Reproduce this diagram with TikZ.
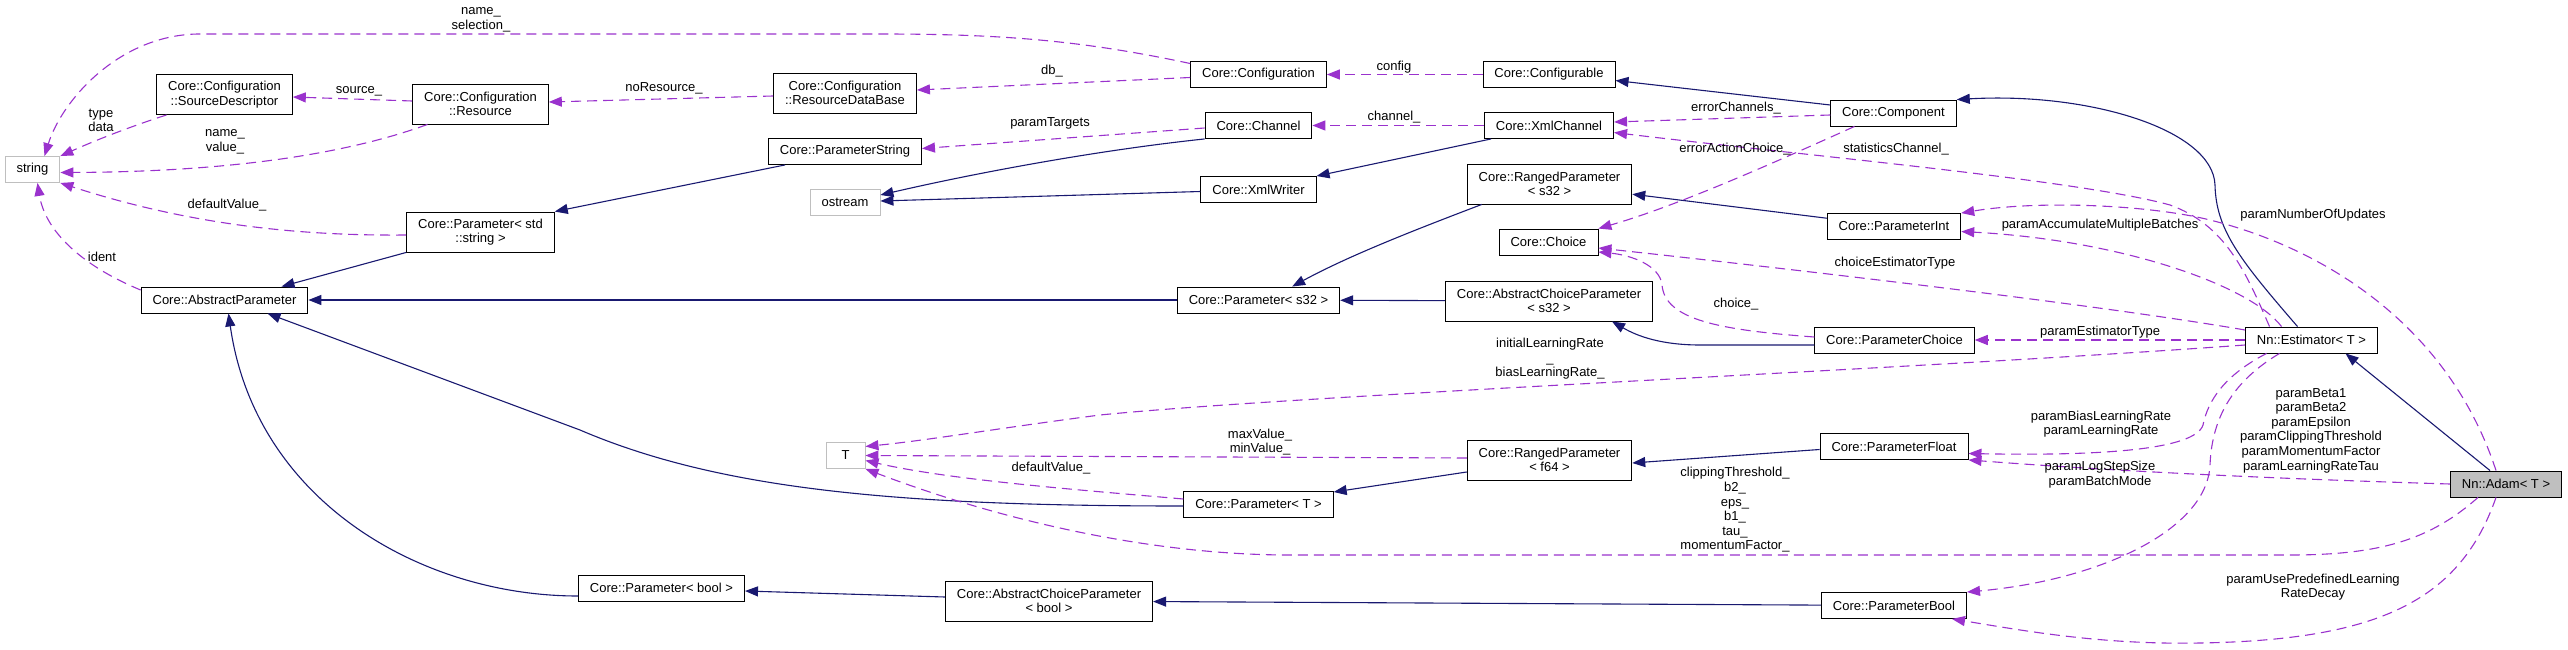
\documentclass[tikz,border=0pt]{standalone}
\usepackage{fontspec}
\setmainfont{Liberation Sans}
\usepackage{xcolor}
\definecolor{inhblue}{RGB}{25,25,112}
\definecolor{usepurple}{RGB}{154,50,205}
\definecolor{extgray}{RGB}{191,191,191}
\usepackage{tikz}
\usetikzlibrary{arrows.meta}
\tikzset{
  cls/.style={draw=black,line width=0.9pt,fill=white,inner xsep=11.5pt,inner ysep=2pt,
    minimum height=26pt,align=center,font=\fontsize{13}{14.6}\selectfont},
  cls2/.style={cls,minimum height=40pt},
  ext/.style={cls,draw=extgray},
  cur/.style={cls,fill=extgray},
  inh/.style={draw=inhblue,line width=1.1pt,-{Triangle[length=13pt,width=10pt]}},
  dep/.style={draw=usepurple,line width=1.1pt,dash pattern=on 10pt off 6pt,
    -{Triangle[length=13pt,width=10pt]}},
  lbl/.style={inner sep=0pt,align=center,font=\fontsize{13}{14.6}\selectfont}
}

\begin{document}
\begin{tikzpicture}[x=1pt,y=-1pt]
  \useasboundingbox (0,0) rectangle (2568,650);
  % external types
  \node[ext] (str) at (32.5,169.5) {string};
  \node[ext] (ostr) at (845,202) {ostream};
  \node[ext,minimum width=39pt] (tt) at (845.5,455.5) {T};
  % Core classes
  \node[cls2] (srcdesc) at (224.5,94.5) {Core::Configuration\\::SourceDescriptor};
  \node[cls2] (res) at (480.5,104) {Core::Configuration\\::Resource};
  \node[cls2] (resdb) at (845,93) {Core::Configuration\\::ResourceDataBase};
  \node[cls] (conf) at (1258.5,74.5) {Core::Configuration};
  \node[cls] (cfgable) at (1549,74.5) {Core::Configurable};
  \node[cls] (comp) at (1893.5,113) {Core::Component};
  \node[cls] (pstr) at (845,151.5) {Core::ParameterString};
  \node[cls] (chan) at (1258.5,125.5) {Core::Channel};
  \node[cls] (xmlch) at (1549,125.5) {Core::XmlChannel};
  \node[cls] (xmlw) at (1258.5,189.5) {Core::XmlWriter};
  \node[cls2] (pstds) at (480.5,232) {Core::Parameter< std\\::string >};
  \node[cls] (abspar) at (224.5,300) {Core::AbstractParameter};
  \node[cls2] (rps32) at (1549.5,184) {Core::RangedParameter\\< s32 >};
  \node[cls] (choice) at (1548.5,242) {Core::Choice};
  \node[cls] (ps32) at (1258.5,300) {Core::Parameter< s32 >};
  \node[cls2] (acps32) at (1549,301) {Core::AbstractChoiceParameter\\< s32 >};
  \node[cls] (pint) at (1894,226.5) {Core::ParameterInt};
  \node[cls] (pchoice) at (1894.5,340) {Core::ParameterChoice};
  \node[cls] (pT) at (1258.5,504) {Core::Parameter< T >};
  \node[cls2] (rpf64) at (1549.5,460) {Core::RangedParameter\\< f64 >};
  \node[cls] (pfloat) at (1894,446.5) {Core::ParameterFloat};
  \node[cls] (pbool0) at (661.5,588) {Core::Parameter< bool >};
  \node[cls2] (acpbool) at (1049,601) {Core::AbstractChoiceParameter\\< bool >};
  \node[cls] (pbool) at (1894,605.5) {Core::ParameterBool};
  % Nn classes
  \node[cls] (est) at (2311.5,340) {Nn::Estimator< T >};
  \node[cur] (adam) at (2506,484) {Nn::Adam< T >};

  % inheritance
  \draw[inh] ([yshift=8pt]comp.west) -- ([yshift=-6pt]cfgable.east);
  \draw[inh] ([xshift=-14pt]est.north) .. controls (2240,260) and (2216,230) .. (2215,185)
    .. controls (2213,130) and (2090,92) .. (comp.north east);
  \draw[inh] ([xshift=-16pt]adam.north) -- ([xshift=34pt]est.south);
  \draw[inh] ([xshift=15pt]rps32.south west) .. controls (1420,228) and (1350,255) .. ([xshift=-48pt]ps32.north east);
  \draw[inh] (ps32) -- (abspar);
  \draw[inh] (acps32) -- (ps32);
  \draw[inh] (pint) -- (rps32);
  \draw[inh] ([yshift=-5pt]pchoice.west) -- (1700,345) .. controls (1655,345) and (1632,333) .. ([xshift=63pt]acps32.south);
  \draw[inh] ([xshift=-60pt]pstr.south) -- (pstds.north east);
  \draw[inh] (pstds.south west) -- ([xshift=57pt]abspar.north);
  \draw[inh] (chan.south west) .. controls (1100,150) and (980,172) .. ([yshift=7pt]ostr.east);
  \draw[inh] ([yshift=-2pt]xmlw.west) -- ([yshift=1pt]ostr.east);
  \draw[inh] ([xshift=-58pt]xmlch.south) -- (xmlw.north east);
  \draw[inh] ([yshift=-2pt]pT.west) .. controls (900,506) and (720,490) .. (580,430) -- ([xshift=43pt]abspar.south);
  \draw[inh] ([yshift=-8pt]pbool0.west) .. controls (420,596) and (255,500) .. ([xshift=4pt]abspar.south);
  \draw[inh] ([yshift=4pt]acpbool.west) -- ([yshift=-3pt]pbool0.east);
  \draw[inh] (pbool) -- (acpbool);
  \draw[inh] ([yshift=-3pt]pfloat.west) -- ([yshift=-3pt]rpf64.east);
  \draw[inh] ([yshift=-12pt]rpf64.west) -- ([yshift=12pt]pT.east);

  % usage
  \draw[dep] ([yshift=11pt]conf.west) .. controls (1080,40) and (1000,34) .. (880,34) -- (200,34)
    .. controls (120,34) and (62,100) .. ([xshift=12pt]str.north);
  \draw[dep] (cfgable) -- (conf);
  \draw[dep] ([yshift=-3pt]conf.west) -- ([yshift=3pt]resdb.east);
  \draw[dep] ([yshift=-3pt]resdb.west) -- ([yshift=2pt]res.east);
  \draw[dep] ([yshift=3pt]res.west) -- ([yshift=-2.5pt]srcdesc.east);
  \draw[dep] ([xshift=-58pt]srcdesc.south) .. controls (120,130) and (85,145) .. (str.north east);
  \draw[dep] ([xshift=-53pt]res.south) .. controls (330,160) and (200,172) .. ([yshift=-3pt]str.east);
  \draw[dep] ([yshift=-3pt]pstds.west) .. controls (300,236) and (190,225) .. (str.south east);
  \draw[dep] ([yshift=10pt]abspar.west) .. controls (80,265) and (45,230) .. ([xshift=5pt]str.south);
  \draw[dep] ([yshift=-2.5pt]chan.west) -- ([yshift=3pt]pstr.east);
  \draw[dep] (xmlch) -- (chan);
  \draw[dep] ([yshift=-2pt]comp.west) -- ([yshift=3.5pt]xmlch.east);
  \draw[dep] ([xshift=-39pt]comp.south) .. controls (1780,160) and (1680,205) .. (choice.north east);
  \draw[dep] ([xshift=-42pt]est.north) .. controls (2245,270) and (2225,225) .. (2170,205)
    .. controls (2080,180) and (1800,155) .. ([yshift=-7pt]xmlch.east);
  \draw[dep] ([xshift=-10pt]adam.north) .. controls (2450,330) and (2330,250) .. (2210,220)
    .. controls (2150,205) and (2040,200) .. (pint.north east);
  \draw[dep] ([xshift=-30pt]est.north) .. controls (2250,285) and (2120,240) .. ([yshift=-5pt]pint.east);
  \draw[dep] ([yshift=10pt]est.west) .. controls (2100,305) and (1800,270) .. ([yshift=-6pt]choice.east);
  \draw[dep] ([yshift=3pt]pchoice.west) .. controls (1720,330) and (1665,320) .. (1662,285)
    .. controls (1660,265) and (1630,255) .. ([yshift=-10pt]choice.east);
  \draw[dep] (est) -- (pchoice);
  \draw[dep] ([yshift=-5pt]est.west) .. controls (1900,370) and (1300,395) .. (1100,415)
    .. controls (1000,428) and (930,440) .. ([yshift=9pt]tt.east);
  \draw[dep] ([yshift=2pt]rpf64.west) -- (tt.east);
  \draw[dep] ([yshift=5pt]pT.west) .. controls (1080,490) and (950,480) .. ([yshift=-5pt]tt.east);
  \draw[dep] ([xshift=-28pt]adam.south) .. controls (2430,540) and (2380,555) .. (2290,555) -- (1290,555)
    .. controls (1150,555) and (1000,520) .. (tt.south east);
  \draw[dep] ([xshift=-45pt]est.south) .. controls (2225,375) and (2208,400) .. (2203,425)
    .. controls (2195,450) and (2100,456) .. ([yshift=-7pt]pfloat.east);
  \draw[dep] (adam.west) .. controls (2250,478) and (2100,470) .. (pfloat.south east);
  \draw[dep] ([xshift=-32pt]est.south) .. controls (2235,380) and (2212,415) .. (2210,465)
    .. controls (2207,530) and (2100,580) .. (pbool.north east);
  \draw[dep] ([xshift=-10pt]adam.south) .. controls (2460,600) and (2380,640) .. (2200,643)
    .. controls (2100,645) and (2020,630) .. ([xshift=-15pt]pbool.south east);

  % member labels
  \node[lbl] (lnamesel) at (481,19.5) {name\_\\selection\_};
  \node[lbl] (ltype) at (101,120.5) {type\\data};
  \node[lbl] (lsource) at (359,91) {source\_};
  \node[lbl] (lnameval) at (225,141.5) {name\_\\value\_};
  \node[lbl] (ldefstr) at (227,205) {defaultValue\_};
  \node[lbl] (lident) at (102,257) {ident};
  \node[lbl] (lnores) at (664,88) {noResource\_};
  \node[lbl] (ldb) at (1052,71) {db\_};
  \node[lbl] (ltargets) at (1050,123) {paramTargets};
  \node[lbl] (lconfig) at (1394,67) {config};
  \node[lbl] (lchannel) at (1394,117) {channel\_};
  \node[lbl] (lerrch) at (1736,108) {errorChannels\_};
  \node[lbl] (lerrac) at (1735,149) {errorActionChoice\_};
  \node[lbl] (lstatch) at (1896,149) {statisticsChannel\_};
  \node[lbl] (lnumupd) at (2313,215) {paramNumberOfUpdates};
  \node[lbl] (laccum) at (2100,225) {paramAccumulateMultipleBatches};
  \node[lbl] (lchest) at (1895,263) {choiceEstimatorType};
  \node[lbl] (lchoice) at (1736,304) {choice\_};
  \node[lbl] (lesttype) at (2100,332) {paramEstimatorType};
  \node[lbl] (llrate) at (1550,359) {initialLearningRate\\\_\\biasLearningRate\_};
  \node[lbl] (lminmax) at (1260,442) {maxValue\_\\minValue\_};
  \node[lbl] (ldefT) at (1051,468) {defaultValue\_};
  \node[lbl] (ladamT) at (1735,510) {clippingThreshold\_\\b2\_\\eps\_\\b1\_\\tau\_\\momentumFactor\_};
  \node[lbl] (lbiaslr) at (2101,424) {paramBiasLearningRate\\paramLearningRate};
  \node[lbl] (lbeta) at (2311,430.5) {paramBeta1\\paramBeta2\\paramEpsilon\\paramClippingThreshold\\paramMomentumFactor\\paramLearningRateTau};
  \node[lbl] (llogstep) at (2100,474.5) {paramLogStepSize\\paramBatchMode};
  \node[lbl] (lpredef) at (2313,587) {paramUsePredefinedLearning\\RateDecay};
\end{tikzpicture}
\end{document}
